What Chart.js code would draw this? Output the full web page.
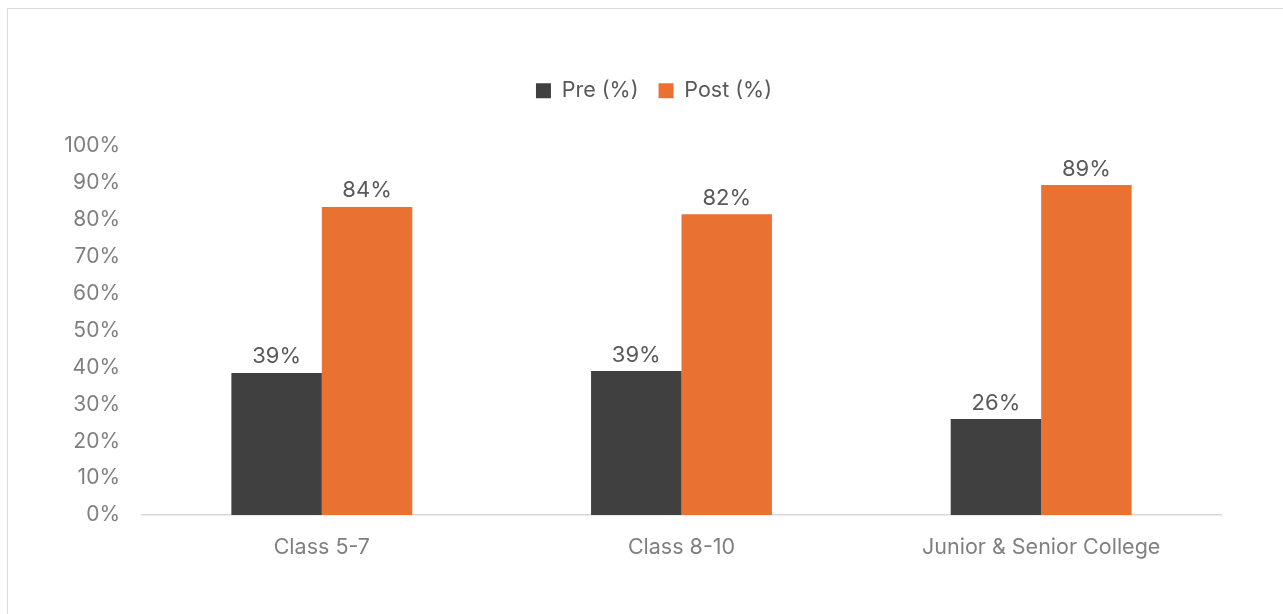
<!DOCTYPE html>
<html><head><meta charset="utf-8">
<script src="https://cdn.jsdelivr.net/npm/chart.js@4.4.1/dist/chart.umd.min.js"></script>
<style>
html,body{margin:0;padding:0;background:#fff;}
#wrap{position:relative;width:1283px;height:614px;overflow:hidden;background:#fff;}
#frame{position:absolute;left:7px;top:8px;width:1320px;height:700px;border:1.5px solid #d9d9d9;box-sizing:border-box;}
#c{position:absolute;left:0;top:0;}
</style></head><body>
<div id="wrap"><div id="frame"></div><canvas id="c" width="1283" height="614"></canvas></div>
<script>
const categories = ['Class 5-7', 'Class 8-10', 'Junior & Senior College'];
const preValues = [38.5, 39, 26];
const postValues = [83.5, 81.5, 89.4];
const seriesNames = ['Pre (%)', 'Post (%)'];
const yTickLabels = ['0%','10%','20%','30%','40%','50%','60%','70%','80%','90%','100%'];

const FONT = 'Inter, "Liberation Sans", Arial, sans-serif';

const dataLabels = {
  id: 'dataLabels',
  afterDatasetsDraw(chart) {
    const ctx = chart.ctx;
    ctx.save();
    ctx.font = '22px ' + FONT;
    ctx.fillStyle = '#595959';
    ctx.textAlign = 'center';
    ctx.textBaseline = 'alphabetic';
    chart.data.datasets.forEach((ds, i) => {
      const meta = chart.getDatasetMeta(i);
      meta.data.forEach((bar, j) => {
        ctx.fillText(Math.round(ds.data[j]) + '%', bar.x, bar.y - 9.5);
      });
    });
    ctx.restore();
  }
};

const legendSpacer = {
  id: 'legendSpacer',
  afterInit(chart) {
    const lg = chart.legend;
    if (!lg) return;
    const orig = lg.fit;
    lg.fit = function() { orig.call(this); this.height += 34.5; };
  },
  afterLayout(chart) {
    if (chart.legend) chart.legend.left = 87;
  }
};

new Chart(document.getElementById('c'), {
  type: 'bar',
  data: {
    labels: categories,
    datasets: [
      { label: seriesNames[0], data: preValues, backgroundColor: '#404040', borderWidth: 0 },
      { label: seriesNames[1], data: postValues, backgroundColor: '#E97132', borderWidth: 0 }
    ]
  },
  options: {
    responsive: false,
    animation: false,
    devicePixelRatio: 1,
    layout: { padding: { left: 0, right: 62, top: 60, bottom: 0 } },
    datasets: { bar: { barPercentage: 1.0, categoryPercentage: 0.503 } },
    plugins: {
      legend: {
        position: 'top',
        labels: {
          font: { size: 21.5, family: FONT },
          color: '#595959',
          boxWidth: 15,
          boxHeight: 15,
          padding: 20
        }
      },
      tooltip: { enabled: false }
    },
    scales: {
      x: {
        grid: { display: false, drawTicks: false },
        border: { display: true, color: '#d9d9d9', width: 1.5 },
        ticks: { font: { size: 21.5, family: FONT }, color: '#7f7f7f', padding: 20 },
        afterFit(s) { s.height = 99; }
      },
      y: {
        min: 0, max: 100,
        grid: { display: false, drawTicks: false },
        border: { display: false },
        ticks: {
          stepSize: 10,
          font: { size: 21, family: FONT },
          color: '#7f7f7f',
          padding: 22,
          callback: (v, i) => yTickLabels[i]
        },
        afterFit(s) { s.width = 142; }
      }
    }
  },
  plugins: [dataLabels, legendSpacer]
});
</script>
</body></html>
